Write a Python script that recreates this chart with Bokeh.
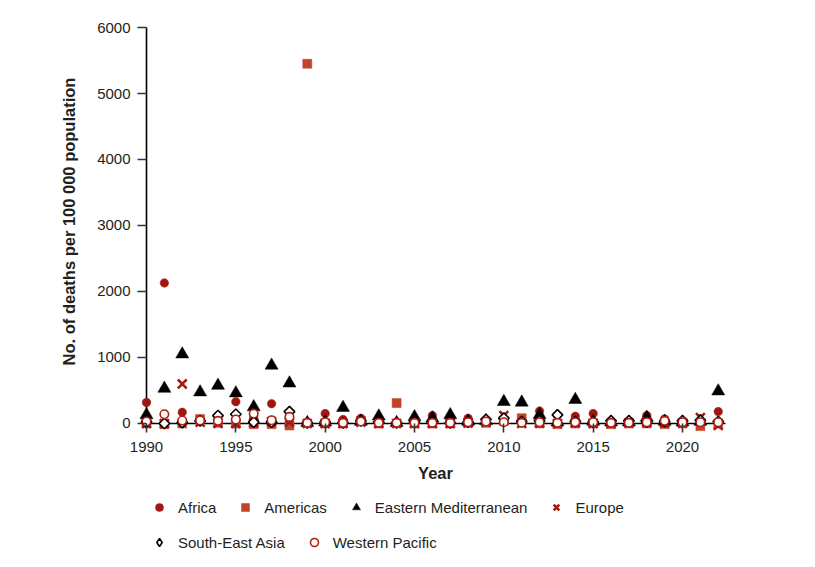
import math
from bokeh.plotting import figure
from bokeh.models import ColumnDataSource, Range1d, FixedTicker, Legend, LegendItem, Label
from bokeh.embed import file_html
from bokeh.resources import INLINE

years = list(range(1990, 2023))

africa = [320, 2130, 170, 50, 40, 330, 90, 300, 60, 20, 150, 60, 80, 30, 20, 60, 120,
          60, 80, 60, 60, 30, 190, 20, 110, 150, 40, 30, 120, 70, 30, 40, 180]
americas = [0, -10, 0, 70, 10, 0, -10, -10, -30, 5450, 0, 0, 40, 0, 310, 0, 0,
            0, 10, 10, 40, 80, 0, -10, 0, 0, -10, 0, 0, -10, 0, -40, 0]
east_med = [130, 530, 1050, 475, 575, 460, 250, 880, 610, 10, 20, 240, 30, 110, 10, 100, 80,
            130, 30, 40, 330, 320, 130, 20, 360, 30, 20, 20, 90, 30, 20, 30, 490]
europe = [0, 0, 600, 20, 0, 0, 10, 30, 20, 0, 0, 0, 20, 0, 0, 0, 0,
          0, 10, 20, 120, 0, 10, 0, 10, 0, 0, 10, 20, 10, 10, 90, -30]
se_asia = [20, 0, 15, 40, 120, 140, 20, 20, 180, 10, 20, 10, 40, 20, 10, 20, 20,
           10, 20, 60, 80, 30, 40, 130, 30, 20, 40, 40, 20, 30, 40, 50, 30]
w_pacific = [30, 140, 45, 45, 40, 60, 150, 50, 100, 10, 20, 10, 30, 10, 10, 10, 10,
             10, 20, 30, 20, 10, 20, 10, 20, 20, 10, 10, 20, 40, 20, 20, 20]

x_ticks = [1990, 1995, 2000, 2005, 2010, 2015, 2020]
y_ticks = [0, 1000, 2000, 3000, 4000, 5000, 6000]

# the plotting frame covers the whole canvas; axes sit at the origin
X_START, X_END = 1981.828, 2026.604
Y_START, Y_END = -2075.8, 6409.1
X_AXIS_END = 2022.406

src = ColumnDataSource(dict(year=years, africa=africa, americas=americas, east_med=east_med,
                            europe=europe, se_asia=se_asia, w_pacific=w_pacific))

FONT = "Liberation Sans"
TXT = "#231f20"

p = figure(width=800, height=560, output_backend="svg", toolbar_location=None,
           x_range=Range1d(X_START, X_END), y_range=Range1d(Y_START, Y_END),
           min_border=0)
p.outline_line_color = None
p.xgrid.visible = False
p.ygrid.visible = False

# axis lines through the origin (drawn beneath the markers)
p.segment(x0=[years[0], years[0]], y0=[y_ticks[0], y_ticks[0]],
          x1=[X_AXIS_END, years[0]], y1=[y_ticks[0], y_ticks[-1]],
          line_color="black", line_width=1.6)

r_am = p.scatter("year", "americas", source=src, marker="square", size=9,
                 fill_color="#c2432a", line_color="#c2432a", line_width=0.5)
r_af = p.scatter("year", "africa", source=src, marker="circle", size=8.5,
                 fill_color="#a01712", line_color="#a01712", line_width=0.5)
r_em = p.scatter("year", "east_med", source=src, marker="triangle", size=13,
                 fill_color="black", line_color="black", line_width=0.5)
r_eu = p.scatter("year", "europe", source=src, marker="x", size=12.5,
                 line_color="#a31a14", line_width=2.6)
r_se = p.scatter("year", "se_asia", source=src, marker="square", angle=math.pi / 4, size=7.5,
                 fill_color="white", line_color="black", line_width=1.6)
r_wp = p.scatter("year", "w_pacific", source=src, marker="circle", size=8.5,
                 fill_color="white", line_color="#b01e14", line_width=1.6)
# hidden twin of the South-East Asia series, used only for its diamond legend key
r_se_key = p.scatter("year", "se_asia", source=src, marker="diamond", size=10,
                     fill_color="white", line_color="black", line_width=1.6, visible=False)

xa = p.xaxis[0]
xa.fixed_location = 0
xa.ticker = FixedTicker(ticks=x_ticks)
xa.major_tick_in = 0
xa.major_tick_out = 9
xa.major_label_standoff = 10
ya = p.yaxis[0]
ya.fixed_location = 1990
ya.ticker = FixedTicker(ticks=y_ticks)
ya.major_tick_in = 0
ya.major_tick_out = 9
ya.major_label_standoff = 7

for ax in (xa, ya):
    ax.axis_line_color = None
    ax.major_tick_line_color = "#333333"
    ax.major_tick_line_width = 1.6
    ax.minor_tick_line_color = None
    ax.major_label_text_font = FONT
    ax.major_label_text_font_size = "15px"
    ax.major_label_text_color = TXT

title_style = dict(x_units="screen", y_units="screen", text_font=FONT,
                   text_font_size="16.5px", text_font_style="bold", text_color=TXT,
                   text_align="center", text_baseline="middle")
p.add_layout(Label(x=435, y=88, text="Year", **title_style))
p.add_layout(Label(x=68, y=339, angle=math.pi / 2,
                   text="No. of deaths per 100 000 population", **title_style))


def mk_legend(items, loc):
    return Legend(items=items, location=loc, orientation="horizontal",
                  glyph_width=20, glyph_height=20, label_standoff=9, spacing=19,
                  padding=0, margin=0, border_line_color=None, background_fill_alpha=0,
                  inactive_fill_alpha=0,
                  label_text_font=FONT, label_text_font_size="15px", label_text_color=TXT,
                  label_height=20)


leg1 = mk_legend([LegendItem(label="Africa", renderers=[r_af]),
                  LegendItem(label="Americas", renderers=[r_am]),
                  LegendItem(label="Eastern Mediterranean", renderers=[r_em]),
                  LegendItem(label="Europe", renderers=[r_eu])], (149, 43))
leg2 = mk_legend([LegendItem(label="South-East Asia", renderers=[r_se_key]),
                  LegendItem(label="Western Pacific", renderers=[r_wp])], (149, 8))
p.add_layout(leg1)
p.add_layout(leg2)

open("out.html", "w").write(file_html(p, INLINE))
